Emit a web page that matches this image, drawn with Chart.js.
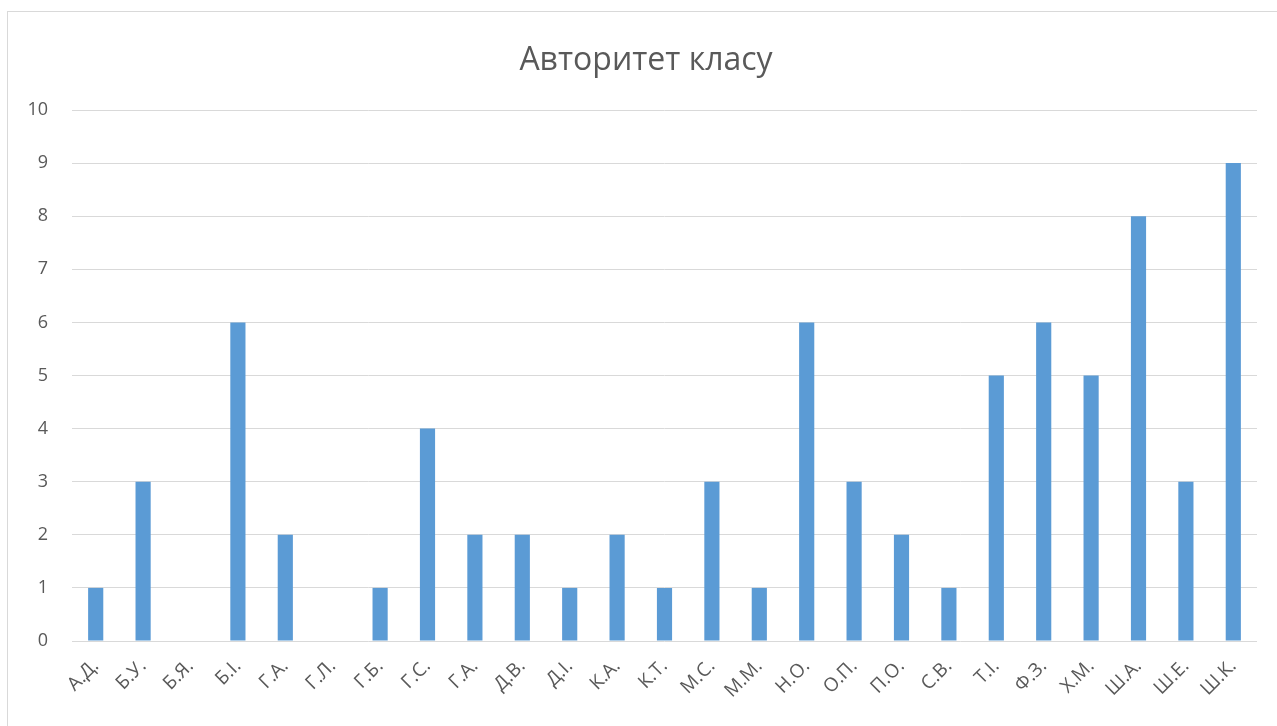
<!DOCTYPE html>
<html>
<head>
<meta charset="utf-8">
<script src="https://cdn.jsdelivr.net/npm/chart.js@4/dist/chart.umd.min.js"></script>
<style>
    html, body { margin: 0; padding: 0; background: #fff; overflow: hidden; }
    #frame {
        position: absolute; left: 7px; top: 11px;
        width: 1278px; height: 730px;
        border: 1px solid #d9d9d9; box-sizing: border-box;
    }
    #wrap { position: absolute; left: 7px; top: 0; width: 1278px; height: 726px; }
</style>
</head>
<body>
<div id="frame"></div>
<div id="wrap"><canvas id="chart" width="1278" height="726"></canvas></div>
<script>
    // Учні (ініціали) та кількість виборів
    const names = ['А.Д.', 'Б.У.', 'Б.Я.', 'Б.І.', 'Г.А.', 'Г.Л.', 'Г.Б.', 'Г.С.', 'Г.А.', 'Д.В.',
        'Д.І.', 'К.А.', 'К.Т.', 'М.С.', 'М.М.', 'Н.О.', 'О.П.', 'П.О.', 'С.В.', 'Т.І.',
        'Ф.З.', 'Х.М.', 'Ш.А.', 'Ш.Е.', 'Ш.К.'];
    const votes = [1, 3, 0, 6, 2, 0, 1, 4, 2, 2, 1, 2, 1, 3, 1, 6, 3, 2, 1, 5, 6, 5, 8, 3, 9];
    const yTicks = [0, 1, 2, 3, 4, 5, 6, 7, 8, 9, 10];

    const textColor = '#595959';
    const gridColor = '#d9d9d9';
    const fontFamily = '"Open Sans", "Noto Sans", sans-serif';

    new Chart(document.getElementById('chart'), {
        type: 'bar',
        data: {
            labels: names,
            datasets: [{
                label: 'Авторитет класу',
                data: votes,
                backgroundColor: '#5b9bd5',
                barPercentage: 0.32,
                categoryPercentage: 1.0
            }]
        },
        options: {
            responsive: false,
            animation: false,
            layout: {
                padding: { left: 8, right: 8, top: 0, bottom: 0 }
            },
            plugins: {
                legend: { display: false },
                tooltip: { enabled: false },
                title: {
                    display: true,
                    text: 'Авторитет класу',
                    color: textColor,
                    font: { family: fontFamily, size: 32, weight: 'normal' },
                    padding: { top: 42, bottom: 29.6 }
                }
            },
            scales: {
                x: {
                    grid: { display: false },
                    border: { display: false },
                    ticks: {
                        color: textColor,
                        font: { family: fontFamily, size: 19 },
                        minRotation: 45,
                        maxRotation: 45,
                        autoSkip: false,
                        padding: 6
                    },
                    afterFit: function(scale) { scale.height = 85; }
                },
                y: {
                    min: 0,
                    max: 10,
                    afterBuildTicks: function(scale) {
                        scale.ticks = yTicks.map(v => ({ value: v }));
                    },
                    grid: { color: gridColor, lineWidth: 1, drawTicks: false },
                    border: { display: false },
                    ticks: {
                        color: textColor,
                        font: { family: fontFamily, size: 18 },
                        padding: 24
                    },
                    afterFit: function(scale) { scale.width = 57; }
                },
                // пустий відступ праворуч
                yRight: {
                    position: 'right',
                    min: 0,
                    max: 10,
                    grid: { display: false },
                    border: { display: false },
                    ticks: { display: false },
                    afterFit: function(scale) { scale.width = 20; }
                }
            }
        }
    });
</script>
</body>
</html>
